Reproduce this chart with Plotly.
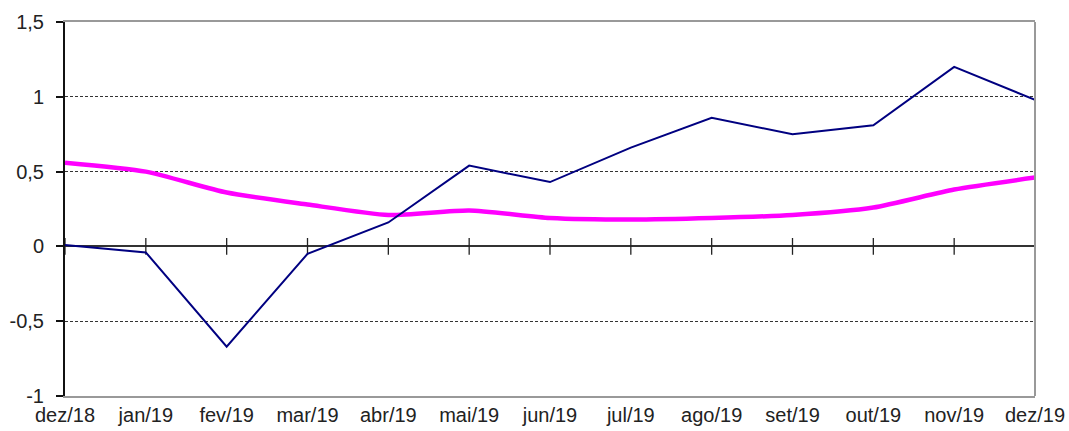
import plotly.graph_objects as go

categories = ["dez/18", "jan/19", "fev/19", "mar/19", "abr/19", "mai/19", "jun/19",
              "jul/19", "ago/19", "set/19", "out/19", "nov/19", "dez/19"]
serie_azul = [0.01, -0.04, -0.67, -0.05, 0.16, 0.54, 0.43, 0.66, 0.86, 0.75, 0.81, 1.20, 0.98]
serie_magenta = [0.56, 0.50, 0.36, 0.28, 0.21, 0.24, 0.19, 0.18, 0.19, 0.21, 0.26, 0.38, 0.46]
y_tickvals = [-1, -0.5, 0, 0.5, 1, 1.5]
y_ticktext = ["-1", "-0,5", "0", "0,5", "1", "1,5"]

idx = list(range(len(categories)))
zero_ticks = [0] * len(categories)

fig = go.Figure()
# category ticks drawn on the zero line
fig.add_trace(go.Scatter(x=idx, y=zero_ticks, mode="markers",
                         marker=dict(symbol="line-ns-open", size=12, color="#222222",
                                     line=dict(color="#222222", width=1.3)),
                         hoverinfo="skip", showlegend=False, cliponaxis=False))
fig.add_trace(go.Scatter(x=idx, y=serie_magenta, mode="lines",
                         line=dict(color="#ff00ff", width=4.5, shape="spline", smoothing=0.6),
                         showlegend=False, cliponaxis=False))
fig.add_trace(go.Scatter(x=idx, y=serie_azul, mode="lines",
                         line=dict(color="#000080", width=2),
                         showlegend=False, cliponaxis=False))

font = dict(family="Liberation Sans, Arial, sans-serif", size=20, color="#222222")

fig.update_layout(
    width=1069, height=431,
    margin=dict(l=65, r=34, t=22, b=35),
    paper_bgcolor="white", plot_bgcolor="white",
    font=font,
    xaxis=dict(range=[0, len(categories) - 1], tickmode="array", tickvals=idx,
               ticktext=categories, showgrid=False, zeroline=False,
               showline=True, linecolor="#999999", linewidth=2, mirror=True,
               ticks="", tickfont=font, automargin=False),
    yaxis=dict(range=[-1, 1.5], tickmode="array", tickvals=y_tickvals,
               ticktext=y_ticktext, showgrid=True, gridcolor="#333333",
               griddash="3px,2px", gridwidth=1,
               zeroline=True, zerolinecolor="#333333", zerolinewidth=1.5,
               showline=True, linecolor="#111111", linewidth=2,
               ticks="outside", ticklen=7, tickcolor="#111111", tickwidth=1.5,
               ticklabelstandoff=8, tickfont=font, automargin=False),
    shapes=[dict(type="line", xref="paper", yref="paper", x0=1, x1=1, y0=0, y1=1,
                 line=dict(color="#999999", width=2))],
)

fig.write_html("out.html", config={"displayModeBar": False},
               post_script="document.body.style.margin='0';document.body.style.overflow='hidden';")
